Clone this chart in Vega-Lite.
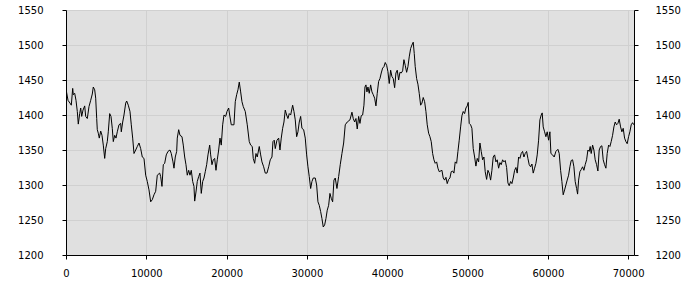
{
  "$schema": "https://vega.github.io/schema/vega-lite/v6.json",
  "autosize": "none",
  "padding": {"left": 66, "top": 10, "right": 66, "bottom": 45},
  "width": 568,
  "height": 245,
  "background": "white",
  "config": {
    "view": {"fill": "#e0e0e0", "stroke": null},
    "axis": {
      "labelFont": "DejaVu Sans",
      "labelFontSize": 10,
      "labelColor": "black",
      "domainColor": "black",
      "tickColor": "black",
      "tickSize": 4,
      "gridColor": "#d0d0d0",
      "gridWidth": 1,
      "title": null
    }
  },
  "data": {"values": [
    {"x":0,"y":1437},{"x":249,"y":1421},{"x":498,"y":1417},{"x":660,"y":1414},{"x":834,"y":1438},{"x":909,"y":1429},{"x":1083,"y":1431},{"x":1245,"y":1421},{"x":1407,"y":1405},{"x":1531,"y":1387},{"x":1706,"y":1402},{"x":1830,"y":1410},{"x":1955,"y":1398},{"x":2117,"y":1407},{"x":2328,"y":1413},{"x":2453,"y":1398},{"x":2652,"y":1395},{"x":2864,"y":1412},{"x":3075,"y":1421},{"x":3274,"y":1430},{"x":3399,"y":1440},{"x":3573,"y":1436},{"x":3698,"y":1424},{"x":3822,"y":1395},{"x":3897,"y":1379},{"x":4021,"y":1374},{"x":4146,"y":1367},{"x":4320,"y":1377},{"x":4482,"y":1371},{"x":4644,"y":1357},{"x":4818,"y":1338},{"x":4943,"y":1352},{"x":5142,"y":1362},{"x":5266,"y":1376},{"x":5441,"y":1402},{"x":5603,"y":1398},{"x":5764,"y":1381},{"x":5889,"y":1362},{"x":6063,"y":1371},{"x":6225,"y":1367},{"x":6387,"y":1376},{"x":6599,"y":1386},{"x":6810,"y":1388},{"x":6885,"y":1376},{"x":7059,"y":1390},{"x":7221,"y":1400},{"x":7433,"y":1417},{"x":7557,"y":1420},{"x":7756,"y":1414},{"x":7968,"y":1405},{"x":8130,"y":1386},{"x":8304,"y":1367},{"x":8466,"y":1345},{"x":8678,"y":1350},{"x":8877,"y":1355},{"x":9089,"y":1360},{"x":9300,"y":1352},{"x":9499,"y":1340},{"x":9711,"y":1338},{"x":9923,"y":1314},{"x":10122,"y":1305},{"x":10334,"y":1293},{"x":10545,"y":1276},{"x":10744,"y":1279},{"x":10956,"y":1286},{"x":11168,"y":1291},{"x":11367,"y":1314},
    {"x":11666,"y":1317},{"x":11790,"y":1312},{"x":11952,"y":1298},{"x":12114,"y":1329},{"x":12288,"y":1331},{"x":12487,"y":1343},{"x":12699,"y":1348},{"x":12948,"y":1350},{"x":13110,"y":1345},{"x":13322,"y":1333},{"x":13446,"y":1324},{"x":13608,"y":1340},{"x":13782,"y":1348},{"x":13857,"y":1367},{"x":14031,"y":1379},{"x":14193,"y":1371},{"x":14442,"y":1369},{"x":14604,"y":1357},{"x":14778,"y":1340},{"x":14940,"y":1329},{"x":15102,"y":1314},{"x":15276,"y":1321},{"x":15438,"y":1314},{"x":15600,"y":1321},{"x":15774,"y":1305},{"x":15936,"y":1298},{"x":16023,"y":1277},{"x":16185,"y":1290},{"x":16347,"y":1305},{"x":16521,"y":1312},{"x":16683,"y":1317},{"x":16845,"y":1288},{"x":17019,"y":1305},{"x":17181,"y":1310},{"x":17343,"y":1319},{"x":17517,"y":1329},{"x":17679,"y":1343},{"x":17891,"y":1357},{"x":18015,"y":1343},{"x":18177,"y":1329},{"x":18339,"y":1336},{"x":18513,"y":1338},{"x":18675,"y":1321},{"x":18837,"y":1336},{"x":19011,"y":1350},{"x":19173,"y":1367},{"x":19335,"y":1357},{"x":19509,"y":1386},{"x":19671,"y":1400},{"x":19883,"y":1398},{"x":20045,"y":1405},{"x":20256,"y":1410},{"x":20381,"y":1400},{"x":20580,"y":1386},{"x":20916,"y":1386},{"x":21078,"y":1419},{"x":21252,"y":1429},{"x":21414,"y":1436},{"x":21576,"y":1447},{"x":21750,"y":1433},{"x":21912,"y":1419},{"x":22074,"y":1412},{"x":22323,"y":1405},{"x":22572,"y":1386},{"x":22821,"y":1362},{"x":22995,"y":1357},{"x":23194,"y":1355},
    {"x":23319,"y":1338},{"x":23493,"y":1331},{"x":23655,"y":1345},{"x":23817,"y":1340},{"x":24066,"y":1355},{"x":24240,"y":1343},{"x":24402,"y":1333},{"x":24614,"y":1326},{"x":24813,"y":1317},{"x":25025,"y":1317},{"x":25236,"y":1326},{"x":25435,"y":1336},{"x":25647,"y":1340},{"x":25772,"y":1362},{"x":25933,"y":1364},{"x":26058,"y":1352},{"x":26270,"y":1364},{"x":26481,"y":1367},{"x":26643,"y":1350},{"x":26805,"y":1367},{"x":26979,"y":1381},{"x":27141,"y":1390},{"x":27303,"y":1407},{"x":27477,"y":1400},{"x":27639,"y":1395},{"x":27801,"y":1402},{"x":27975,"y":1400},{"x":28224,"y":1414},{"x":28386,"y":1405},{"x":28548,"y":1393},{"x":28722,"y":1369},{"x":28884,"y":1376},{"x":29046,"y":1390},{"x":29220,"y":1398},{"x":29382,"y":1381},{"x":29594,"y":1379},{"x":29793,"y":1367},{"x":29967,"y":1343},{"x":30129,"y":1326},{"x":30291,"y":1312},{"x":30465,"y":1295},{"x":30627,"y":1305},{"x":30789,"y":1310},{"x":31038,"y":1310},{"x":31212,"y":1300},{"x":31374,"y":1276},{"x":31536,"y":1271},{"x":31710,"y":1262},{"x":31872,"y":1252},{"x":32034,"y":1240},{"x":32208,"y":1243},{"x":32370,"y":1252},{"x":32532,"y":1264},{"x":32706,"y":1271},{"x":32868,"y":1288},{"x":33030,"y":1281},{"x":33204,"y":1276},{"x":33366,"y":1307},{"x":33528,"y":1310},{"x":33740,"y":1295},{"x":33951,"y":1312},{"x":34150,"y":1329},{"x":34362,"y":1345},{"x":34574,"y":1360},{"x":34773,"y":1386},
    {"x":35022,"y":1390},{"x":35358,"y":1393},{"x":35607,"y":1404},{"x":35769,"y":1395},{"x":35943,"y":1390},{"x":36105,"y":1395},{"x":36267,"y":1380},{"x":36441,"y":1398},{"x":36603,"y":1388},{"x":36765,"y":1399},{"x":36939,"y":1400},{"x":37101,"y":1414},{"x":37226,"y":1440},{"x":37350,"y":1443},{"x":37475,"y":1433},{"x":37599,"y":1440},{"x":37761,"y":1431},{"x":37935,"y":1443},{"x":38097,"y":1433},{"x":38259,"y":1429},{"x":38433,"y":1424},{"x":38595,"y":1413},{"x":38757,"y":1431},{"x":38931,"y":1448},{"x":39093,"y":1452},{"x":39255,"y":1460},{"x":39429,"y":1467},{"x":39591,"y":1469},{"x":39753,"y":1475},{"x":39927,"y":1471},{"x":40089,"y":1462},{"x":40251,"y":1445},{"x":40425,"y":1464},{"x":40587,"y":1455},{"x":40749,"y":1452},{"x":40923,"y":1439},{"x":41085,"y":1460},{"x":41247,"y":1464},{"x":41421,"y":1450},{"x":41583,"y":1461},{"x":41745,"y":1460},{"x":41919,"y":1463},{"x":42081,"y":1479},{"x":42243,"y":1471},{"x":42417,"y":1461},{"x":42579,"y":1469},{"x":42741,"y":1483},{"x":42915,"y":1495},{"x":43077,"y":1500},{"x":43239,"y":1504},{"x":43364,"y":1488},{"x":43488,"y":1469},{"x":43662,"y":1452},{"x":43824,"y":1444},{"x":43986,"y":1431},{"x":44160,"y":1414},{"x":44322,"y":1417},{"x":44484,"y":1425},{"x":44658,"y":1419},{"x":44820,"y":1405},{"x":44982,"y":1386},{"x":45156,"y":1374},{"x":45318,"y":1369},{"x":45480,"y":1362},{"x":45654,"y":1345},{"x":45816,"y":1336},{"x":45978,"y":1331},{"x":46152,"y":1333},{"x":46314,"y":1324},{"x":46476,"y":1319},
    {"x":46812,"y":1321},{"x":46974,"y":1310},{"x":47148,"y":1307},{"x":47310,"y":1311},{"x":47472,"y":1302},{"x":47646,"y":1308},{"x":47808,"y":1310},{"x":47970,"y":1319},{"x":48144,"y":1320},{"x":48306,"y":1317},{"x":48468,"y":1333},{"x":48642,"y":1331},{"x":48804,"y":1348},{"x":48966,"y":1364},{"x":49140,"y":1383},{"x":49302,"y":1399},{"x":49464,"y":1405},{"x":49638,"y":1402},{"x":49800,"y":1410},{"x":49962,"y":1413},{"x":50086,"y":1418},{"x":50211,"y":1388},{"x":50385,"y":1386},{"x":50547,"y":1381},{"x":50709,"y":1352},{"x":50883,"y":1340},{"x":51045,"y":1327},{"x":51207,"y":1338},{"x":51381,"y":1333},{"x":51543,"y":1360},{"x":51705,"y":1348},{"x":51879,"y":1336},{"x":52041,"y":1340},{"x":52203,"y":1319},{"x":52377,"y":1308},{"x":52539,"y":1321},{"x":52701,"y":1317},{"x":52875,"y":1307},{"x":53037,"y":1321},{"x":53199,"y":1340},{"x":53373,"y":1343},{"x":53535,"y":1333},{"x":53697,"y":1336},{"x":53871,"y":1324},{"x":54033,"y":1332},{"x":54195,"y":1329},{"x":54369,"y":1336},{"x":54531,"y":1333},{"x":54693,"y":1335},{"x":54867,"y":1325},{"x":55029,"y":1303},{"x":55191,"y":1299},{"x":55365,"y":1305},{"x":55527,"y":1302},{"x":55689,"y":1310},{"x":55863,"y":1321},{"x":56025,"y":1325},{"x":56187,"y":1317},{"x":56361,"y":1340},{"x":56523,"y":1338},{"x":56685,"y":1345},{"x":56859,"y":1348},{"x":57021,"y":1340},{"x":57183,"y":1345},{"x":57357,"y":1348},{"x":57519,"y":1338},{"x":57681,"y":1329},{"x":57855,"y":1326},{"x":58017,"y":1330},{"x":58179,"y":1317},{"x":58353,"y":1324},{"x":58515,"y":1331},
    {"x":58677,"y":1343},{"x":58851,"y":1364},{"x":59013,"y":1393},{"x":59175,"y":1400},{"x":59299,"y":1403},{"x":59424,"y":1383},{"x":59598,"y":1376},{"x":59760,"y":1369},{"x":59922,"y":1376},{"x":60096,"y":1364},{"x":60258,"y":1376},{"x":60383,"y":1345},{"x":60594,"y":1343},{"x":60793,"y":1340},{"x":61005,"y":1348},{"x":61254,"y":1351},{"x":61416,"y":1345},{"x":61590,"y":1321},{"x":61752,"y":1305},{"x":61914,"y":1286},{"x":62088,"y":1293},{"x":62250,"y":1300},{"x":62412,"y":1307},{"x":62586,"y":1314},{"x":62748,"y":1326},{"x":62910,"y":1335},{"x":63084,"y":1336},{"x":63246,"y":1326},{"x":63408,"y":1305},{"x":63582,"y":1295},{"x":63707,"y":1287},{"x":63831,"y":1307},{"x":63993,"y":1319},{"x":64155,"y":1322},{"x":64329,"y":1326},{"x":64491,"y":1321},{"x":64653,"y":1329},{"x":64827,"y":1336},{"x":64989,"y":1350},{"x":65151,"y":1348},{"x":65276,"y":1355},{"x":65400,"y":1345},{"x":65574,"y":1357},{"x":65736,"y":1350},{"x":65898,"y":1336},{"x":66072,"y":1329},{"x":66234,"y":1320},{"x":66396,"y":1350},{"x":66570,"y":1355},{"x":66732,"y":1356},{"x":66894,"y":1336},{"x":67068,"y":1329},{"x":67230,"y":1324},{"x":67392,"y":1345},{"x":67566,"y":1357},{"x":67728,"y":1355},{"x":67890,"y":1362},{"x":68064,"y":1371},{"x":68226,"y":1383},{"x":68388,"y":1390},{"x":68562,"y":1386},{"x":68724,"y":1388},{"x":68886,"y":1394},{"x":69060,"y":1383},{"x":69222,"y":1376},{"x":69384,"y":1381},{"x":69558,"y":1367},{"x":69720,"y":1362},{"x":69881,"y":1359},{"x":70056,"y":1369},{"x":70218,"y":1376},{"x":70380,"y":1386},{"x":70554,"y":1389},{"x":70716,"y":1386}
  ]},
  "layer": [
    {
      "mark": {"type": "line", "color": "black", "strokeWidth": 1, "clip": true},
      "encoding": {
        "x": {"field": "x", "type": "quantitative",
              "scale": {"domain": [0, 70730], "nice": false, "zero": false},
              "axis": {"values": [0,10000,20000,30000,40000,50000,60000,70000], "format": "d", "labelPadding": 9, "grid": true, "labelFlush": false}},
        "y": {"field": "y", "type": "quantitative",
              "scale": {"domain": [1200, 1550], "nice": false, "zero": false},
              "axis": {"values": [1200,1250,1300,1350,1400,1450,1500,1550], "format": "d", "labelPadding": 19, "grid": true, "orient": "left", "labelFlush": false}}
      }
    },
    {
      "mark": {"type": "point", "opacity": 0},
      "encoding": {
        "x": {"field": "x", "type": "quantitative", "scale": {"domain": [0, 70730], "nice": false, "zero": false}},
        "y": {"field": "y", "type": "quantitative",
              "scale": {"domain": [1200, 1550], "nice": false, "zero": false},
              "axis": {"values": [1200,1250,1300,1350,1400,1450,1500,1550], "format": "d", "labelPadding": 17, "grid": false, "orient": "right", "labelFlush": false}}
      }
    }
  ],
  "resolve": {"axis": {"y": "independent"}}
}
